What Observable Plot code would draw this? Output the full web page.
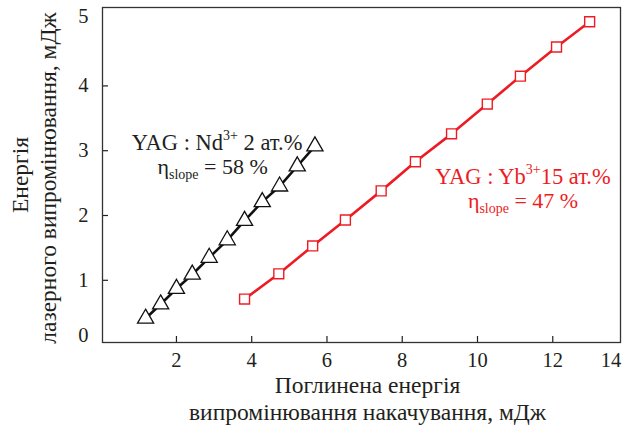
<!DOCTYPE html>
<html><head><meta charset="utf-8">
<script src="https://cdn.jsdelivr.net/npm/d3@7"></script>
<script src="https://cdn.jsdelivr.net/npm/@observablehq/plot@0.6"></script>
<style>
body{margin:0;background:#fff;}
</style></head><body><div id="chart"></div>
<script>
// Nd:YAG 2 at.% (triangles)
const ndX = [1.18, 1.58, 2.00, 2.42, 2.87, 3.35, 3.81, 4.28, 4.74, 5.21, 5.68];
const ndY = [0.41, 0.63, 0.87, 1.09, 1.35, 1.62, 1.92, 2.21, 2.45, 2.76, 3.07];
// Yb:YAG 15 at.% (squares)
const ybX = [3.81, 4.72, 5.62, 6.49, 7.44, 8.35, 9.31, 10.26, 11.14, 12.10, 12.98];
const ybY = [0.71, 1.10, 1.53, 1.93, 2.38, 2.83, 3.26, 3.72, 4.15, 4.60, 4.99];
// ticks
const xTicks = [2, 4, 6, 8, 10, 12];
const xEdgeTicks = [14];
const yTicks = [1, 2, 3, 4];
const yBottomTicks = [0];
const yTopTicks = [5];
// texts
const xTitle = ["Поглинена енергія", "випромінювання накачування, мДж"];
const yTitle = ["Енергія", "лазерного випромінювання, мДж"];
const ndLabel = ["YAG : Nd^{3+} 2 ат.%", "η_{slope} = 58 %"];
const ybLabel = ["YAG : Yb^{3+}15 ат.%", "η_{slope} = 47 %"];

const nd = ndX.map((x, i) => ({x, y: ndY[i]}));
const yb = ybX.map((x, i) => ({x, y: ybY[i]}));

const INK = "#231f20";
const RED = "#ed1c24";
const FS = 22;      // annotations
const TFS = 20.5;   // tick labels
const AFS = 23.5;   // axis titles
const fmt = d => String(d);

const chart = Plot.plot({
  width: 627,
  height: 431,
  marginLeft: 102,
  marginRight: 7,
  marginTop: 7,
  marginBottom: 89,
  style: {fontFamily: "'Liberation Serif', serif", fontSize: TFS + "px", color: INK, background: "white"},
  x: {domain: [0.035, 13.8]},
  y: {domain: [0.04, 5.21]},
  marks: [
    Plot.axisX(xTicks, {anchor: "bottom", tickSize: -6, tickPadding: 16, tickFormat: fmt, label: null, fill: INK, stroke: INK, strokeWidth: 1.2, fontSize: TFS}),
    Plot.text(xEdgeTicks, {x: d => d, frameAnchor: "bottom", lineAnchor: "top", dy: 10, dx: -17, text: fmt, fill: INK, fontSize: TFS}),
    Plot.axisY(yTicks, {anchor: "left", tickSize: -6, tickPadding: 20, tickFormat: fmt, label: null, fill: INK, stroke: INK, strokeWidth: 1.2, fontSize: TFS}),
    Plot.axisY(yBottomTicks, {anchor: "left", tickSize: 0, tickPadding: 14, dy: -10, tickFormat: fmt, label: null, fill: INK, fontSize: TFS}),
    Plot.axisY(yTopTicks, {anchor: "left", tickSize: 0, tickPadding: 14, dy: -5, tickFormat: fmt, label: null, fill: INK, fontSize: TFS}),
    Plot.frame({stroke: "#333", strokeWidth: 1.3}),
    Plot.line(nd, {x: "x", y: "y", stroke: "#111", strokeWidth: 2.6}),
    Plot.dot(nd, {x: "x", y: "y", symbol: "triangle", r: 6, stroke: "#111", fill: "white", strokeWidth: 1.3}),
    Plot.line(yb, {x: "x", y: "y", stroke: RED, strokeWidth: 2.6}),
    Plot.dot(yb, {x: "x", y: "y", symbol: "square", r: 5.6, stroke: RED, fill: "white", strokeWidth: 1.4}),
    Plot.text([ndLabel[0]], {x: 3.08, y: 3.12, text: d => d, fill: INK, fontSize: FS + 0.5}),
    Plot.text([ndLabel[1]], {x: 2.96, y: 2.75, text: d => d, fill: INK, fontSize: FS}),
    Plot.text([ybLabel[0]], {x: 11.21, y: 2.60, text: d => d, fill: RED, fontSize: FS + 0.5}),
    Plot.text([ybLabel[1]], {x: 11.21, y: 2.22, text: d => d, fill: RED, fontSize: FS}),
    Plot.text([xTitle[0]], {frameAnchor: "bottom", textAnchor: "middle", dy: 50.5, dx: 6, text: d => d, fill: INK, fontSize: AFS}),
    Plot.text([xTitle[1]], {frameAnchor: "bottom", textAnchor: "middle", dy: 77.5, dx: 6, text: d => d, fill: INK, fontSize: AFS}),
    Plot.text([yTitle[0]], {frameAnchor: "left", textAnchor: "middle", rotate: -90, dx: -82.3, dy: 0, text: d => d, fill: INK, fontSize: AFS}),
    Plot.text([yTitle[1]], {frameAnchor: "left", textAnchor: "middle", rotate: -90, dx: -54, dy: 3, text: d => d, fill: INK, fontSize: AFS})
  ]
});

// rich text: ^{...} superscript, _{...} subscript
chart.querySelectorAll("text").forEach(t => {
  const s = t.textContent;
  if (!/[\^_]\{/.test(s)) return;
  const parts = [];
  const re = /([\^_])\{([^}]*)\}/g;
  let last = 0, m;
  while ((m = re.exec(s))) {
    if (m.index > last) parts.push({txt: s.slice(last, m.index), kind: "n"});
    parts.push({txt: m[2], kind: m[1] === "^" ? "sup" : "sub"});
    last = re.lastIndex;
  }
  if (last < s.length) parts.push({txt: s.slice(last), kind: "n"});
  while (t.firstChild) t.removeChild(t.firstChild);
  let shift = 0;
  for (const p of parts) {
    const ts = document.createElementNS("http://www.w3.org/2000/svg", "tspan");
    const target = p.kind === "sup" ? -10 : p.kind === "sub" ? 5 : 0;
    ts.setAttribute("dy", String(target - shift));
    shift = target;
    if (p.kind !== "n") ts.setAttribute("font-size", "14px");
    ts.textContent = p.txt;
    t.appendChild(ts);
  }
});

document.getElementById("chart").appendChild(chart);
</script>
</body></html>
